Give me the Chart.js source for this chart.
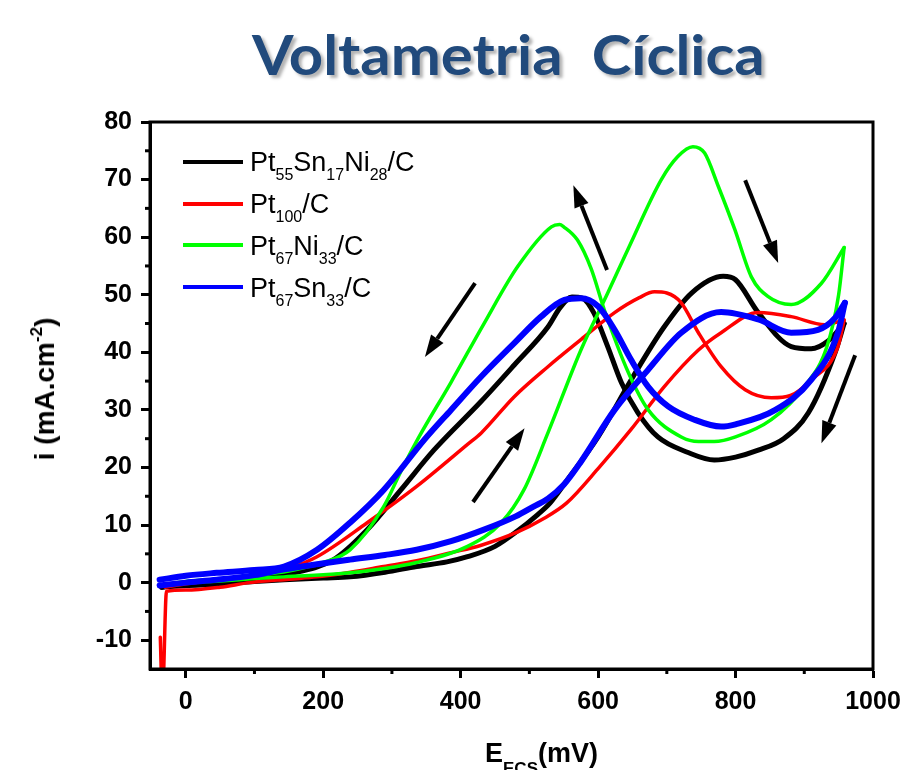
<!DOCTYPE html>
<html>
<head>
<meta charset="utf-8">
<title>Voltametria Cíclica</title>
<script src="https://cdn.jsdelivr.net/npm/chart.js"></script>
<style>
  html, body { margin: 0; padding: 0; background: #fff; overflow: hidden; }
  #wrap { position: relative; width: 900px; height: 770px; overflow: hidden; }
  #chart { position: absolute; left: 0; top: 0; }
  #title {
    position: absolute; left: 252px; top: 26px;
    font: bold 56px Lato, sans-serif; line-height: 56px;
    color: #214a7c; white-space: pre;
    text-shadow: 3px 3px 3px rgba(0, 0, 0, 0.3);
    transform-origin: 0 0;
  }
  .leg { position: absolute; left: 250px; font: 27px "Liberation Sans", Arial, sans-serif; line-height: 30px; white-space: nowrap; color: #000; }
  .sw { position: absolute; left: 183px; width: 60px; height: 4px; }
  .leg sub, #xtitle sub { vertical-align: baseline; position: relative; line-height: 0; }
  .leg sub { font-size: 16px; top: 9px; }
  #xtitle {
    position: absolute; left: 485px; top: 738px;
    font: bold 27px "Liberation Sans", Arial, sans-serif; line-height: 30px; white-space: nowrap;
  }
  #xtitle sub { font-size: 17px; top: 12px; }
  #ytitle {
    position: absolute; left: 45px; top: 389px;
    font: bold 28px "Liberation Sans", Arial, sans-serif; line-height: 32px; white-space: nowrap;
    transform: translate(-50%, -50%) rotate(-90deg);
  }
  #ytitle sup { font-size: 17px; vertical-align: baseline; position: relative; top: -12px; line-height: 0; }
</style>
</head>
<body>
<div id="wrap">
  <canvas id="chart" width="900" height="770"></canvas>
  <div id="title">Voltametria  Cíclica</div>
  <div id="legend"></div>
  <div id="xtitle">E<sub>ECS</sub>(mV)</div>
  <div id="ytitle">i (mA.cm<sup>-2</sup>)</div>
</div>
<script>
// axis ticks
var xTicks = [0, 200, 400, 600, 800, 1000];
var xMinor = [100, 300, 500, 700, 900];
var yTicks = [-10, 0, 10, 20, 30, 40, 50, 60, 70, 80];
var yMinor = [-5, 5, 15, 25, 35, 45, 55, 65, 75];

// Pt55Sn17Ni28/C : forward scan then backward scan
var blackE = [-35, 0, 45, 100, 143, 200, 239, 290, 336, 380, 410, 450, 483, 510, 530, 555, 600, 648, 696, 736, 782, 800, 833, 881, 910, 935, 958,
              945, 906, 870, 833, 800, 769, 731, 687, 658, 634, 614, 594, 577, 562, 545, 527, 478, 430, 361, 313, 264, 215, 150, 100, 50, 0, -35];
var blackI = [-0.8, -0.5, -0.3, 0.2, 0.5, 0.8, 1.0, 1.8, 2.8, 3.6, 4.5, 6.3, 9.0, 11.6, 13.8, 17.8, 25.3, 35.2, 44.4, 50.3, 53.2, 52.6, 46.9, 41.0, 40.6, 42.0, 45.0,
              40.0, 29.5, 25.0, 23.0, 21.8, 21.3, 22.6, 25.3, 29.5, 34.7, 41.0, 46.8, 49.4, 49.6, 47.8, 44.4, 37.8, 31.5, 23.0, 16.1, 9.2, 4.0, 1.5, 0.6, 0.1, -0.3, -0.8];

// Pt100/C
var redE = [-37, -34, -28, 0, 50, 93, 150, 191, 240, 288, 336, 386, 430, 483, 519, 554, 600, 648, 696, 746, 779, 833, 881, 930, 958,
            949, 910, 880, 852, 814, 779, 746, 721, 700, 682, 660, 624, 575, 527, 478, 430, 410, 336, 264, 191, 150, 100, 50, 0, -30];
var redI = [-9.5, -20, -1.5, -1.3, -0.8, 0, 0.6, 1.0, 1.8, 2.8, 3.8, 5.2, 6.5, 8.8, 11.0, 13.8, 19.8, 26.6, 34.0, 40.4, 43.4, 46.9, 46.2, 44.8, 45.6,
            41.0, 35.2, 32.5, 32.1, 33.5, 37.5, 43.4, 48.6, 50.3, 50.5, 49.5, 46.9, 42.2, 37.5, 32.3, 26.0, 24.0, 16.7, 10.4, 4.5, 2.5, 1.2, 0.5, -0.2, -0.8];

// Pt67Ni33/C
var greenE = [-38, 0, 50, 100, 143, 239, 336, 410, 459, 492, 527, 575, 614, 645, 692, 716, 738, 755, 775, 799, 823, 847, 881, 925, 958,
              950, 933, 900, 852, 800, 769, 746, 721, 673, 644, 609, 590, 570, 550, 544, 532, 483, 434, 386, 338, 313, 288, 239, 200, 150, 100, 50, 0, -38];
var greenI = [-0.5, 0, 0.3, 0.7, 1.0, 1.7, 3.5, 6.3, 10.4, 16.1, 26.0, 40.4, 50.3, 58.3, 70.0, 74.0, 75.7, 74.6, 68.8, 61.3, 53.1, 49.7, 48.3, 52.0, 58.2,
              50.0, 41.0, 34.0, 28.3, 25.3, 24.5, 24.5, 25.3, 30.0, 36.5, 47.4, 54.5, 59.5, 61.8, 62.2, 61.8, 54.9, 45.0, 34.8, 25.0, 19.3, 13.2, 5.7, 3.5, 2.0, 1.2, 0.6, 0.2, -0.5];

// Pt67Sn33/C
var blueE = [-38, 0, 45, 100, 143, 191, 239, 290, 336, 386, 434, 480, 506, 527, 550, 575, 624, 673, 721, 779, 833, 881, 920, 945, 959,
             949, 910, 858, 800, 779, 740, 702, 673, 648, 624, 600, 575, 551, 517, 478, 430, 386, 347, 288, 239, 191, 143, 100, 45, 0, -38];
var blueI = [-0.5, 0, 0.5, 1.3, 2.3, 3.2, 4.0, 4.8, 5.7, 7.2, 9.2, 11.5, 13.2, 14.6, 17.0, 21.0, 30.0, 37.0, 43.4, 47.0, 45.7, 43.4, 43.9, 46.0, 48.6,
             43.4, 35.2, 30.0, 27.5, 27.1, 28.3, 30.6, 34.0, 38.7, 43.9, 48.0, 49.4, 49.1, 46.2, 41.6, 35.8, 30.0, 24.8, 16.1, 10.4, 5.7, 2.8, 2.2, 1.7, 1.2, 0.5];

// legend labels
var seriesNames = ['Pt<sub>55</sub>Sn<sub>17</sub>Ni<sub>28</sub>/C', 'Pt<sub>100</sub>/C', 'Pt<sub>67</sub>Ni<sub>33</sub>/C', 'Pt<sub>67</sub>Sn<sub>33</sub>/C'];
var seriesColors = ['#000000', '#ff0000', '#00ff00', '#0000ff'];

// scan direction arrows (tail -> head, in mV / mA.cm-2)
var arrowTail = [[613, 54.3], [814, 69.9], [974, 39.5], [421, 52.0], [418, 14.0]];
var arrowHead = [[564, 69.0], [862, 55.5], [925, 24.2], [348, 39.2], [493, 26.8]];

function toPoints(xs, ys, from, to){
  var pts = [];
  for (var i = from; i <= to; i++){
    pts.push({x: xs[i], y: ys[i]});
  }
  return pts;
}

// one dataset per sweep direction, split at the vertex potential
function sweeps(xs, ys, color, width, order){
  var turn = xs.indexOf(Math.max.apply(null, xs));
  var common = {borderColor: color, borderWidth: width, order: order};
  return [
    Object.assign({data: toPoints(xs, ys, 0, turn)}, common),
    Object.assign({data: toPoints(xs, ys, turn, xs.length - 1)}, common)
  ];
}

function line(ctx, x1, y1, x2, y2){
  ctx.beginPath();
  ctx.moveTo(x1, y1);
  ctx.lineTo(x2, y2);
  ctx.stroke();
}

var decor = {
  id: 'decor',
  afterDraw: function(chart){
    var ctx = chart.ctx;
    var a = chart.chartArea;
    var sx = chart.scales.x;
    var sy = chart.scales.y;
    ctx.save();
    ctx.strokeStyle = '#000';
    ctx.fillStyle = '#000';
    ctx.lineWidth = 3;
    ctx.strokeRect(a.left, a.top, a.right - a.left, a.bottom - a.top);
    // minor ticks
    xMinor.forEach(function(v){
      var px = sx.getPixelForValue(v);
      line(ctx, px, a.bottom, px, a.bottom + 5);
    });
    yMinor.forEach(function(v){
      var py = sy.getPixelForValue(v);
      line(ctx, a.left - 5, py, a.left, py);
    });
    // arrows
    ctx.lineWidth = 4;
    for (var i = 0; i < arrowTail.length; i++){
      var x1 = sx.getPixelForValue(arrowTail[i][0]), y1 = sy.getPixelForValue(arrowTail[i][1]);
      var x2 = sx.getPixelForValue(arrowHead[i][0]), y2 = sy.getPixelForValue(arrowHead[i][1]);
      var ang = Math.atan2(y2 - y1, x2 - x1);
      var hl = 22, hw = 7.5;
      var bx = x2 - hl * Math.cos(ang), by = y2 - hl * Math.sin(ang);
      line(ctx, x1, y1, bx, by);
      ctx.beginPath();
      ctx.moveTo(x2, y2);
      ctx.lineTo(bx + hw * Math.sin(ang), by - hw * Math.cos(ang));
      ctx.lineTo(bx - hw * Math.sin(ang), by + hw * Math.cos(ang));
      ctx.closePath();
      ctx.fill();
    }
    ctx.restore();
  }
};

var tickFont = {family: '"Liberation Sans", Arial, sans-serif', size: 25, weight: 'bold'};

var datasets = [].concat(
  sweeps(blueE, blueI, seriesColors[3], 6, 0),
  sweeps(greenE, greenI, seriesColors[2], 3.5, 1),
  sweeps(redE, redI, seriesColors[1], 3.5, 2),
  sweeps(blackE, blackI, seriesColors[0], 5, 3)
);

var chart = new Chart(document.getElementById('chart'), {
  type: 'line',
  data: { datasets: datasets },
  options: {
    responsive: false,
    animation: false,
    layout: { padding: {top: 122, right: 27, bottom: 0, left: 0} },
    elements: {
      point: { radius: 0 },
      line: { cubicInterpolationMode: 'monotone', fill: false, borderJoinStyle: 'round', borderCapStyle: 'round' }
    },
    plugins: { legend: {display: false}, tooltip: {enabled: false}, title: {display: false} },
    scales: {
      x: {
        type: 'linear', min: -52, max: 1000,
        afterBuildTicks: function(s){ s.ticks = xTicks.map(function(v){ return {value: v}; }); },
        afterFit: function(s){ s.height = 101; s.paddingLeft = 0; s.paddingRight = 0; },
        ticks: { font: tickFont, color: '#000', padding: 9, maxRotation: 0, autoSkip: false,
                 callback: function(v){ return String(v); } },
        grid: { drawOnChartArea: false, tickLength: 9, tickWidth: 3, tickColor: '#000' },
        border: { display: true, color: '#000', width: 3 }
      },
      y: {
        type: 'linear', min: -15, max: 80,
        afterBuildTicks: function(s){ s.ticks = yTicks.map(function(v){ return {value: v}; }); },
        afterFit: function(s){ s.width = 150; s.paddingTop = 0; s.paddingBottom = 0; },
        ticks: { font: tickFont, color: '#000', padding: 9, autoSkip: false,
                 callback: function(v){ return String(v); } },
        grid: { drawOnChartArea: false, tickLength: 9, tickWidth: 3, tickColor: '#000' },
        border: { display: true, color: '#000', width: 3 }
      }
    }
  },
  plugins: [decor]
});

// legend rows
var legend = document.getElementById('legend');
for (var k = 0; k < seriesNames.length; k++){
  var sw = document.createElement('div');
  sw.className = 'sw';
  sw.style.top = (160 + 41.7 * k) + 'px';
  sw.style.background = seriesColors[k];
  legend.appendChild(sw);
  var lab = document.createElement('div');
  lab.className = 'leg';
  lab.style.top = (147.4 + 41.7 * k) + 'px';
  lab.innerHTML = seriesNames[k];
  legend.appendChild(lab);
}

// squeeze the title to the width of the original
var title = document.getElementById('title');
title.style.transform = 'scaleX(' + (513 / title.offsetWidth) + ')';
</script>
</body>
</html>
